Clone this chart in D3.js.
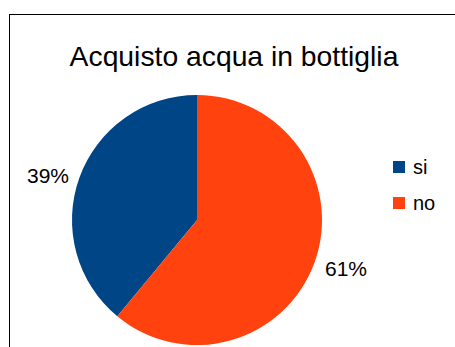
<!DOCTYPE html>
<html>
<head>
<meta charset="utf-8">
<script src="https://cdn.jsdelivr.net/npm/d3@7"></script>
<style>
  html, body { margin: 0; padding: 0; background: #fff; }
  svg { display: block; }
</style>
</head>
<body>
<svg id="chart" width="455" height="347"></svg>
<script>
// Acquisto acqua in bottiglia — risposte sì/no
const categories = ["si", "no"];
const values = [39, 61];
const colors = ["#004586", "#ff420e"];
const title = "Acquisto acqua in bottiglia";

const svg = d3.select("#chart");
const font = "'Liberation Sans', Arial, sans-serif";

// chart frame
svg.append("rect")
  .attr("x", 9.5).attr("y", 14.5)
  .attr("width", 470).attr("height", 360)
  .attr("fill", "#fff")
  .attr("stroke", "#000")
  .attr("stroke-width", 1);

// title
svg.append("text")
  .attr("x", 234).attr("y", 66)
  .attr("text-anchor", "middle")
  .attr("font-family", font)
  .attr("font-size", 28.3)
  .attr("fill", "#000")
  .text(title);

const cx = 197, cy = 220, r = 125;
const total = d3.sum(values);

const color = d3.scaleOrdinal().domain(categories).range(colors);

// slices run counter-clockwise from the top: "si" ends at 12 o'clock going left
const pie = d3.pie()
  .sort(null)
  .value(d => d.value)
  .startAngle(0)
  .endAngle(-2 * Math.PI);

const data = categories.map((c, i) => ({ cat: c, value: values[i] }));
const arcs = pie(data);
const arc = d3.arc().innerRadius(0).outerRadius(r);

const g = svg.append("g").attr("transform", `translate(${cx},${cy})`);
g.selectAll("path")
  .data(arcs)
  .join("path")
  .attr("d", arc)
  .attr("fill", d => color(d.data.cat));

// percentage labels outside the slices, anchored away from the pie
const labelR = r + 11;
const labelArc = d3.arc().innerRadius(labelR).outerRadius(labelR);
g.selectAll("text.pct")
  .data(arcs)
  .join("text")
  .attr("class", "pct")
  .attr("font-family", font)
  .attr("font-size", 21)
  .attr("fill", "#000")
  .attr("text-anchor", d => labelArc.centroid(d)[0] < 0 ? "end" : "start")
  .attr("dominant-baseline", "central")
  .attr("transform", d => {
    const [x, y] = labelArc.centroid(d);
    return `translate(${x},${y + 2})`;
  })
  .text(d => Math.round(d.data.value / total * 100) + "%");

// legend
const legend = svg.append("g").attr("transform", "translate(393,161)");
const item = legend.selectAll("g")
  .data(categories)
  .join("g")
  .attr("transform", (d, i) => `translate(0,${i * 36})`);
item.append("rect")
  .attr("width", 12).attr("height", 12)
  .attr("fill", d => color(d));
item.append("text")
  .attr("x", 20).attr("y", 13)
  .attr("font-family", font)
  .attr("font-size", 20)
  .attr("fill", "#000")
  .text(d => d);
</script>
</body>
</html>
